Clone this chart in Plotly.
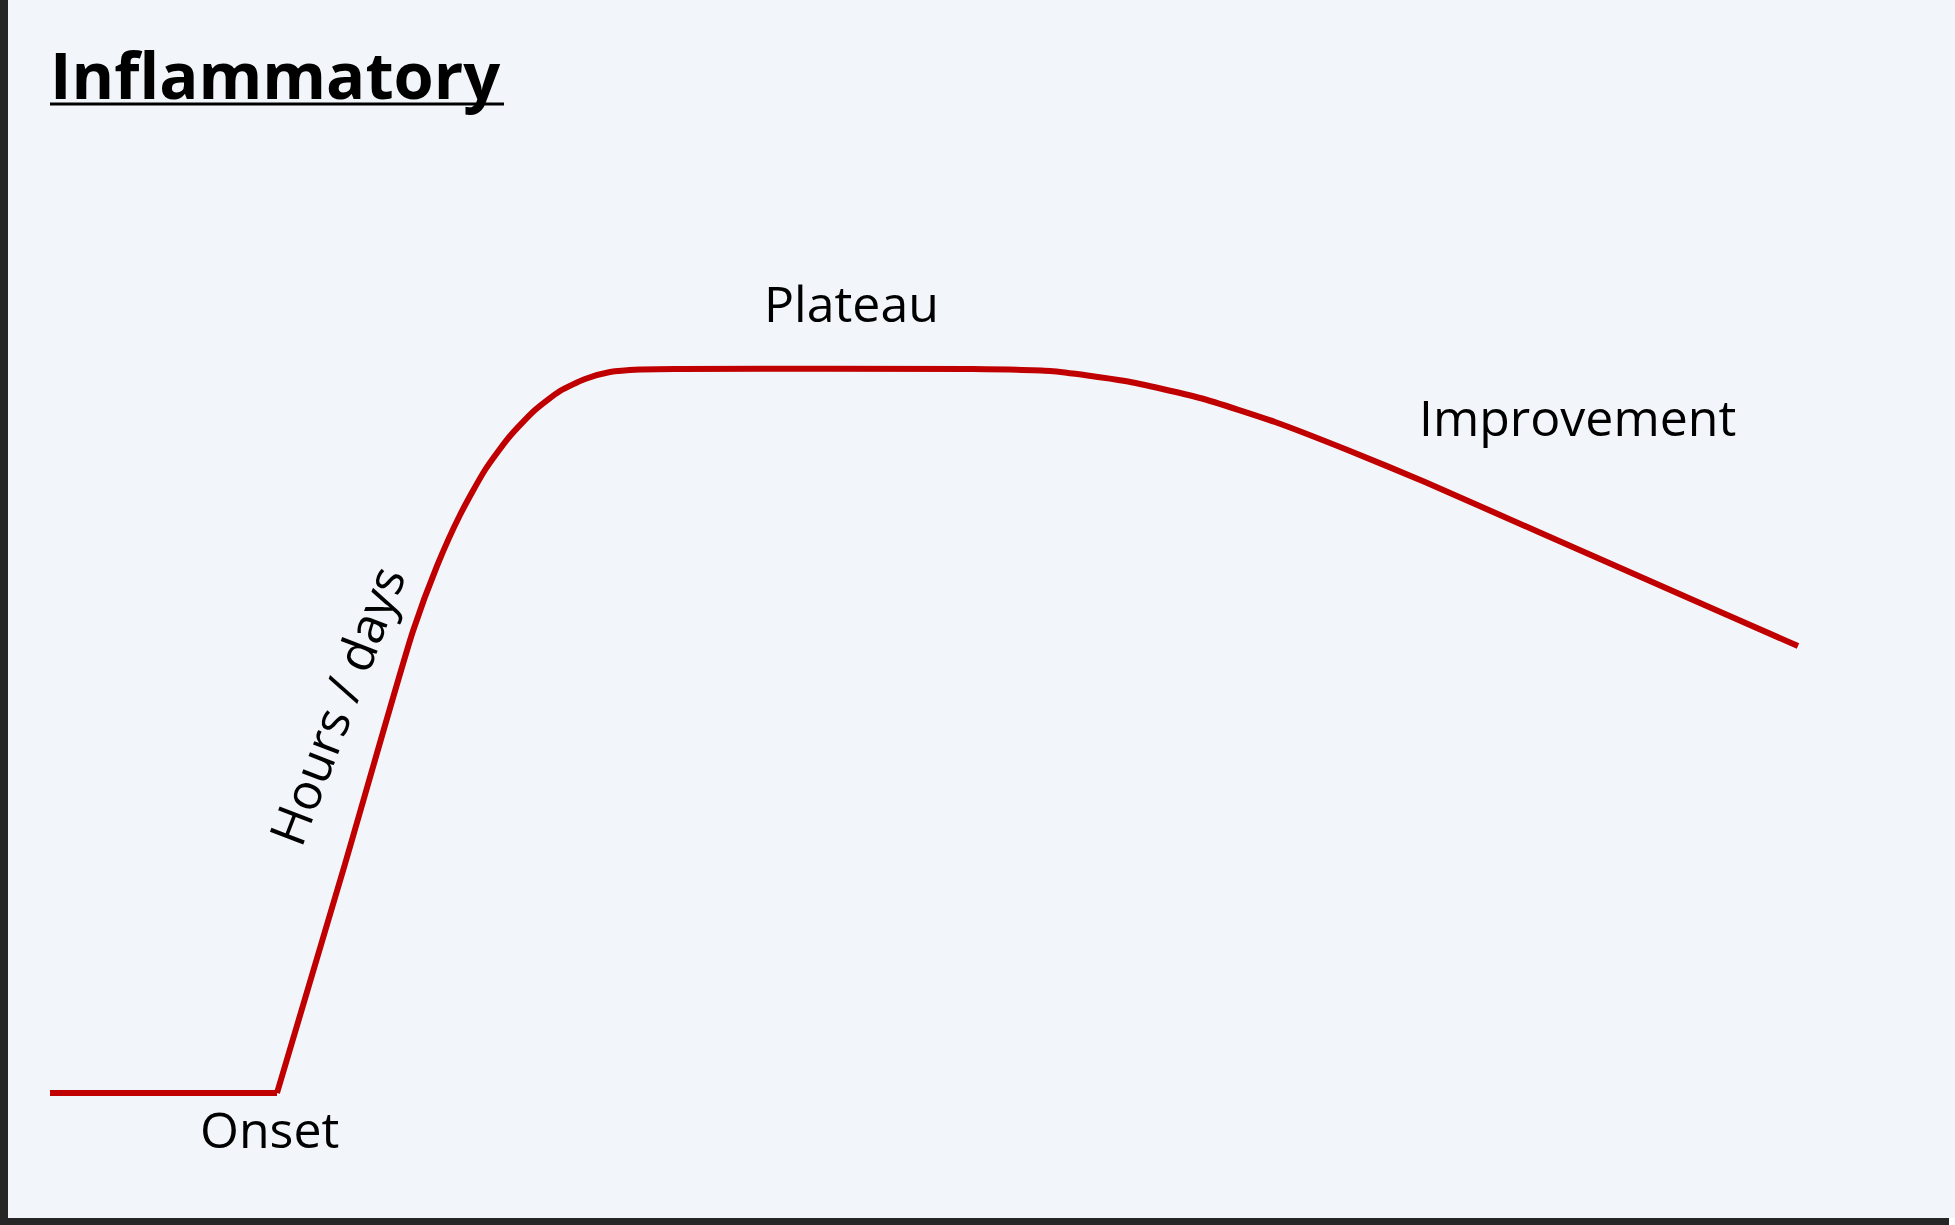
import plotly.graph_objects as go

# Curve (x: time position, y: inflammation level; canvas units)
curve_x = [50, 277, 345, 413, 437, 460, 485, 510, 535, 560, 585, 610, 640, 680,
           972, 1050, 1125, 1200, 1275, 1350, 1425, 1500, 1575, 1650, 1725, 1798]
curve_y = [132, 132, 361, 594, 659, 710, 755, 789, 815, 834, 846, 853, 855.5, 856,
           856, 854, 844, 827, 803, 774, 743, 710, 677, 644, 611, 579]

# Labels
title_text = "Inflammatory"
label_texts = ["Onset", "Hours / days", "Plateau", "Improvement"]
label_x = [269, 336, 851, 1577]
label_y = [96, 519, 922, 808]
label_angle = [0, -69, 0, 0]

W, H = 1955, 1225
BG = "#F2F6FA"
LINE = "#C00000"
FRAME = "#262626"
FONT = "Open Sans"

fig = go.Figure()
# flat pre-onset segment (sharp corner at onset)
fig.add_trace(go.Scatter(x=curve_x[:2], y=curve_y[:2], mode="lines",
                         line=dict(color=LINE, width=6), hoverinfo="skip",
                         showlegend=False))
# rise, plateau and improvement (smooth)
fig.add_trace(go.Scatter(x=curve_x[1:], y=curve_y[1:], mode="lines",
                         line=dict(color=LINE, width=6, shape="spline", smoothing=0.6),
                         hoverinfo="skip", showlegend=False))

fig.add_annotation(x=48, y=1151, xref="x", yref="y", xanchor="left", yanchor="middle",
                   text='<b>' + title_text + '</b>',
                   showarrow=False, font=dict(family=FONT, size=65, color="#000000"))
# title underline (decoration)
fig.add_shape(type="line", xref="paper", yref="paper",
              x0=50 / W, x1=504 / W, y0=1 - 104 / H, y1=1 - 104 / H,
              line=dict(color="#000000", width=3), layer="above")

for t, lx, ly, a in zip(label_texts, label_x, label_y, label_angle):
    fig.add_annotation(x=lx, y=ly, xref="x", yref="y", xanchor="center", yanchor="middle",
                       text=t, textangle=a, showarrow=False,
                       font=dict(family=FONT, size=50, color="#000000"))

# frame (left and bottom dark bars)
fig.add_shape(type="rect", xref="paper", yref="paper", x0=0, x1=8 / W, y0=0, y1=1,
              fillcolor=FRAME, line=dict(width=0), layer="above")
fig.add_shape(type="rect", xref="paper", yref="paper", x0=0, x1=1949 / W, y0=0, y1=7 / H,
              fillcolor=FRAME, line=dict(width=0), layer="above")
fig.add_shape(type="rect", xref="paper", yref="paper", x0=1949 / W, x1=1, y0=0, y1=7 / H,
              fillcolor="#FFFFFF", line=dict(width=0), layer="above")

fig.update_layout(
    width=W, height=H, autosize=False,
    margin=dict(l=0, r=0, t=0, b=0, pad=0),
    paper_bgcolor=BG, plot_bgcolor=BG,
    xaxis=dict(range=[0, W], visible=False, fixedrange=True),
    yaxis=dict(range=[0, H], visible=False, fixedrange=True),
    showlegend=False,
)

fig.write_html("out.html", config={"displayModeBar": False},
               post_script="document.body.style.margin='0';document.body.style.overflow='hidden';")
